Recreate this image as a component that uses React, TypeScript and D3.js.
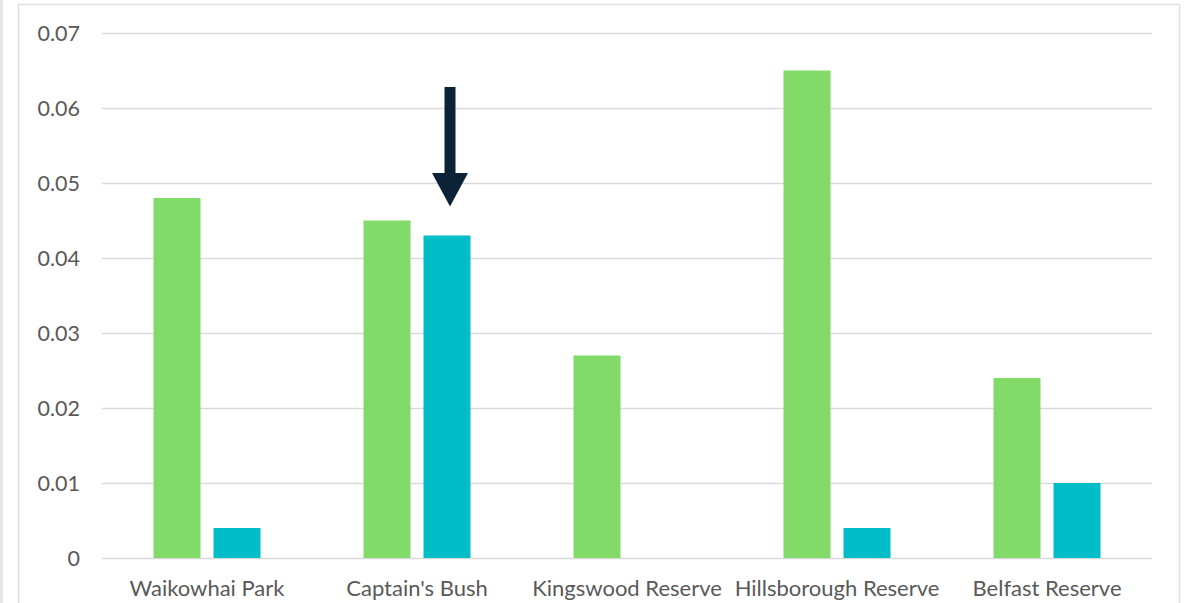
import React from "react";
import * as d3 from "d3";

const categories = ["Waikowhai Park", "Captain's Bush", "Kingswood Reserve", "Hillsborough Reserve", "Belfast Reserve"];
const seriesA = [0.048, 0.045, 0.027, 0.065, 0.024];
const seriesB = [0.004, 0.043, 0, 0.004, 0.01];
const yTicks = [0, 0.01, 0.02, 0.03, 0.04, 0.05, 0.06, 0.07];
const seriesKeys = ["a", "b"];
const seriesColors = ["#82db68", "#00bdc7"];

const W = 1188;
const H = 603;
const plot = { left: 102, right: 1152, top: 33, bottom: 558 };

export default function App() {
  const x = d3.scaleBand<string>().domain(categories).range([plot.left, plot.right]).paddingInner(0).paddingOuter(0);
  const inner = d3.scaleBand<string>().domain(seriesKeys).range([-53.5, 53.5]).paddingInner(13 / 60).paddingOuter(0);
  const y = d3.scaleLinear().domain([0, 0.07]).range([plot.bottom, plot.top]);
  const values = [seriesA, seriesB];
  const font = "Lato, 'Open Sans', sans-serif";

  // arrow pointing at the Captain's Bush second bar
  const arrowX = (x("Captain's Bush") ?? 0) + x.bandwidth() / 2 + (inner("b") ?? 0) + inner.bandwidth() / 2 + 3;
  const arrowTip = y(seriesB[1]) - 29;

  return (
    <svg width={W} height={H} style={{ position: "absolute", left: 0, top: 0, display: "block" }}>
      <rect x={0} y={0} width={W} height={H} fill="#ffffff" />
      <rect x={0} y={0} width={3} height={H} fill="#e6e6e6" />
      <rect x={18.5} y={4.5} width={1161} height={H} fill="#ffffff" stroke="#e0e0e0" strokeWidth={1.5} />
      {yTicks.map((t) => (
        <g key={t}>
          <line x1={plot.left} x2={plot.right} y1={Math.round(y(t)) + 0.5} y2={Math.round(y(t)) + 0.5} stroke="#d9d9d9" strokeWidth={1.5} />
          <text x={80} y={y(t)} dy="0.36em" textAnchor="end" fontFamily={font} fontSize={21.5} fill="#595959">
            {t === 0 ? "0" : d3.format(".2f")(t)}
          </text>
        </g>
      ))}
      {categories.map((c, i) => (
        <g key={c} transform={`translate(${(x(c) ?? 0) + x.bandwidth() / 2},0)`}>
          {seriesKeys.map((k, j) =>
            values[j][i] > 0 ? (
              <rect
                key={k}
                x={inner(k)}
                y={y(values[j][i])}
                width={inner.bandwidth()}
                height={y(0) - y(values[j][i])}
                fill={seriesColors[j]}
              />
            ) : null
          )}
          <text x={0} y={596} textAnchor="middle" fontFamily={font} fontSize={22} fill="#595959">
            {c}
          </text>
        </g>
      ))}
      <rect x={arrowX - 5.5} y={87} width={11} height={88} fill="#0c2237" />
      <path d={`M${arrowX - 18},${173} L${arrowX + 18},${173} L${arrowX},${arrowTip} Z`} fill="#0c2237" />
    </svg>
  );
}
